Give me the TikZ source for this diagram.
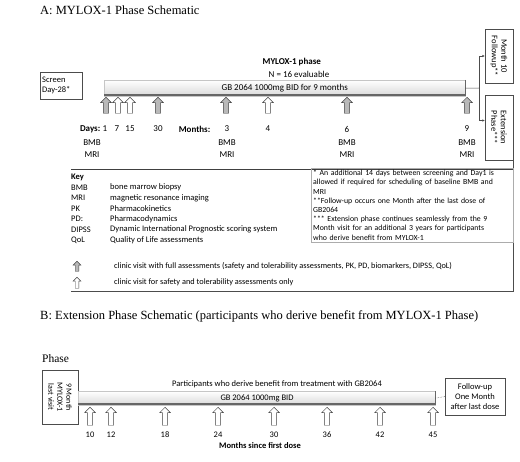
\documentclass[tikz,border=0pt]{standalone}
\usepackage{fontspec}
\setmainfont{Carlito}
\newfontfamily\titlefont{Liberation Serif}
\usetikzlibrary{shapes.arrows, arrows.meta, positioning}

\tikzset{
    lbl/.style={font=\fontsize{9}{10}\selectfont, inner sep=0.5pt},
    lblb/.style={font=\fontsize{9}{10}\selectfont\bfseries, inner sep=0.5pt},
    keytxt/.style={font=\fontsize{8.5}{10}\selectfont, anchor=west, inner sep=0pt},
    note/.style={font=\fontsize{7.8}{9.2}\selectfont, draw=gray!65, anchor=north west, align=left, inner sep=2pt},
    ttl/.style={font=\titlefont\fontsize{12.5}{14}\selectfont, anchor=west, inner sep=0pt},
    fullvisit/.style={single arrow, shape border rotate=90, anchor=tip, draw=gray!50!black, fill=gray!55, line width=0.4pt, inner sep=2.4pt, minimum height=16pt, single arrow head extend=2.8pt},
    safevisit/.style={fullvisit, draw=black!75, fill=white},
    drugbar/.style={draw=gray!45, top color=white, bottom color=gray!30, inner sep=0pt, anchor=north west},
    barend/.style={line width=2pt, black!60},
    boxv/.style={draw=black!70, rotate=-90, align=center, font=\fontsize{8.5}{9.5}\selectfont, inner sep=1pt},
    link/.style={draw=gray!60!black, line width=0.5pt},
  }

\begin{document}
\begin{tikzpicture}[x=1pt, y=-1pt]
    \useasboundingbox (0,0) rectangle (520,462);

    % A: main phase
    \node[ttl] (titA) at (40,10) {A: MYLOX-1 Phase Schematic};
    \node[draw=black!70, anchor=north west, text width=38pt, minimum height=27pt, align=left,
          font=\fontsize{8.5}{10}\selectfont, inner sep=2pt] (screen) at (40,72) {Screen\\Day-28*};
    \node[lblb, anchor=west] (phase) at (262,62) {MYLOX-1 phase};
    \node[lbl, anchor=west] (nval) at (268,74) {N = 16 evaluable};
    \node[drugbar, minimum width=361pt, minimum height=16pt] (barA) at (104,80) {};
    \draw[barend] ([yshift=1pt]barA.south west) -- ([yshift=1pt]barA.south east);
    \draw[barend, line width=1.5pt] (barA.north east) -- (barA.south east);
    \node[lbl] (doseA) at (barA.center) {GB 2064 1000mg BID for 9 months};

    \foreach \x/\s [count=\i] in {106/fullvisit,118/safevisit,130/safevisit,158/fullvisit,
                                  226/fullvisit,268/safevisit,347/fullvisit,467/fullvisit}
        \node[\s] (v\i) at (\x,97) {};

    \node[lblb, anchor=east] (days) at (101,129) {Days:};
    \node[lblb, anchor=east] (months) at (211,129) {Months:};
    \foreach \x/\t in {105/1,117/7,130/15,158/30,227/3,268/4,347/6,467/9}
        \node[lbl] (d\t) at (\x,129) {\t};
    \foreach \x [count=\i] in {92,227,347,467} {
        \node[lbl] (bmb\i) at (\x,143) {BMB};
        \node[lbl] (mri\i) at (\x,155) {MRI};
    }

    % follow-up / extension
    \node[boxv, minimum width=54pt, minimum height=28pt] (mo10) at (499,56) {Month 10\\Followup**};
    \node[boxv, minimum width=65pt, minimum height=28pt] (ext) at (499,127.5) {Extension\\Phase***};
    \coordinate (fork) at (479,88);
    \draw[link] (barA.east) -- (fork);
    \draw[link, -{Latex[length=2.5pt, width=2.5pt]}] (fork) |- (mo10.south);
    \draw[link, -{Latex[length=2.5pt, width=2.5pt]}] (fork) |- ([yshift=7pt]ext.south);

    % key
    \draw[line width=0.8pt, black!75] (71,169) -- (513,169);
    \draw[black!70] (513,160) -- (513,291) -- (71,291);
    \node[keytxt, font=\fontsize{8.5}{10}\selectfont\bfseries] (key) at (71,177) {Key};
    \foreach \a/\d [count=\i] in {BMB/bone marrow biopsy, MRI/magnetic resonance imaging,
                                  PK/Pharmacokinetics, PD:/Pharmacodynamics,
                                  DIPSS/Dynamic International Prognostic scoring system,
                                  QoL/Quality of Life assessments} {
        \node[keytxt] (ab\i) at (71,{177+10.5*\i}) {\a};
        \node[keytxt] (de\i) at (110,{177+10.5*\i}) {\d};
    }
    \node[note, text width=198pt] (notes) at (311,168) {%
        {}* An additional 14 days between screening and Day1 is\\
        allowed if required for scheduling of baseline BMB and\\
        MRI\\
        {}**Follow-up occurs one Month after the last dose of\\
        GB2064\\
        {}*** Extension phase continues seamlessly from the 9\\
        Month visit for an additional 3 years for participants\\
        who derive benefit from MYLOX-1};

    \node[fullvisit, minimum height=10pt, inner sep=1.6pt, single arrow head extend=2pt] (lgfull) at (77,261) {};
    \node[keytxt, font=\fontsize{8.3}{10}\selectfont] (lgfulltxt) at (114,266)
        {clinic visit with full assessments (safety and tolerability assessments, PK, PD, biomarkers, DIPSS, QoL)};
    \node[safevisit, minimum height=11pt, inner sep=1.6pt, single arrow head extend=2pt] (lgsafe) at (77,277) {};
    \node[keytxt, font=\fontsize{8.3}{10}\selectfont] (lgsafetxt) at (114,282)
        {clinic visit for safety and tolerability assessments only};

    % B: extension phase
    \node[ttl] (titB) at (40,316) {B: Extension Phase Schematic (participants who derive benefit from MYLOX-1 Phase)};
    \node[ttl, font=\titlefont\fontsize{11.5}{13}\selectfont] (phB) at (42,359) {Phase};
    \node[boxv, font=\fontsize{8}{9}\selectfont, minimum width=54pt, minimum height=36pt] (last) at (60,397)
        {9 Month\\MYLOX-1\\last visit};
    \node[drugbar, minimum width=357pt, minimum height=14pt] (barB) at (78,391) {};
    \draw[barend] ([yshift=1pt]barB.south west) -- ([yshift=1pt]barB.south east);
    \draw[barend, line width=1.5pt] (barB.north east) -- (barB.south east);
    \node[lbl, font=\fontsize{8.5}{10}\selectfont] (who) at (277,384) {Participants who derive benefit from treatment with GB2064};
    \node[lbl, font=\fontsize{8.5}{10}\selectfont] (doseB) at (257,398) {GB 2064 1000mg BID};
    \foreach \x/\m [count=\i] in {90/10,111/12,165/18,218/24,274/30,327/36,380/42,433/45} {
        \node[safevisit, minimum height=18pt] (w\i) at (\x,407) {};
        \node[lbl, font=\fontsize{8.5}{10}\selectfont] (m\i) at (\x,435) {\m};
    }
    \node[lblb, font=\fontsize{8.5}{10}\selectfont\bfseries] (since) at (260,446) {Months since first dose};
    \node[draw=black!70, align=center, font=\fontsize{8.5}{10}\selectfont, minimum width=60pt,
          minimum height=37pt, inner sep=1pt] (fu) at (475,396.5) {Follow-up\\One Month\\after last dose};
    \draw[link, densely dotted] (barB.east) -- (fu.west);
\end{tikzpicture}
\end{document}
